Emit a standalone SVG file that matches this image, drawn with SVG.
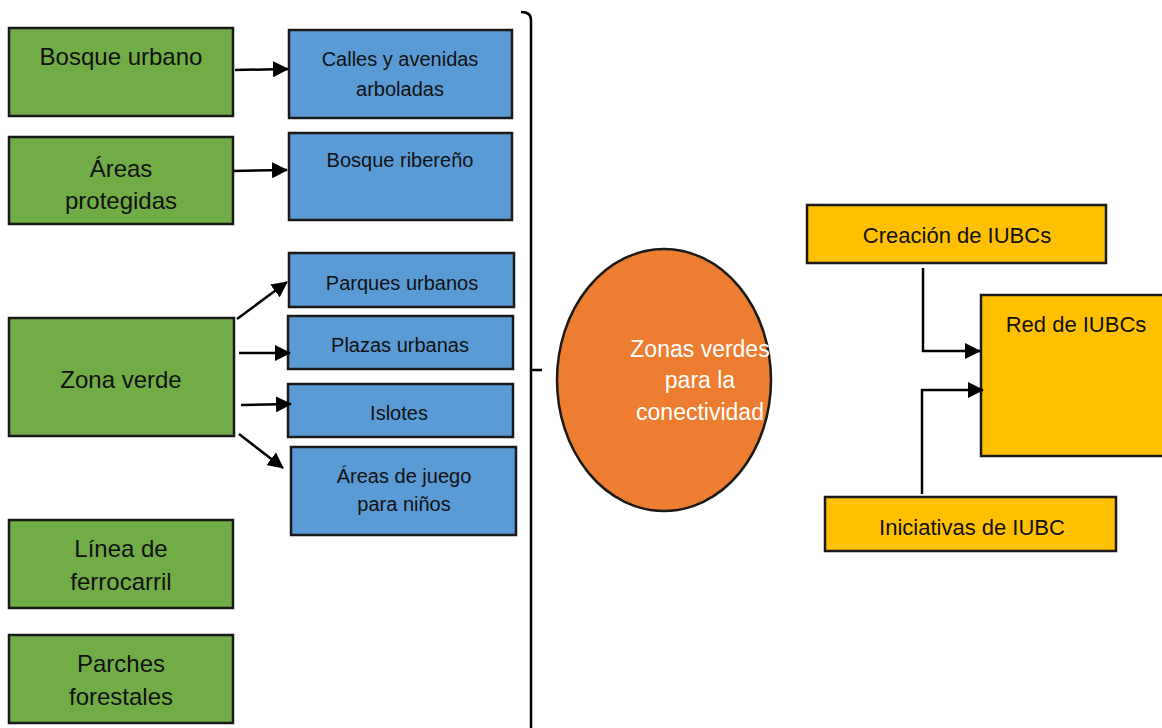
<svg xmlns="http://www.w3.org/2000/svg" width="1162" height="728" viewBox="0 0 1162 728">
<defs>
<style>
.box{stroke:#1a1a1a;stroke-width:2.5}
.g{fill:#70AD47}.b{fill:#5B9BD5}.y{fill:#FFC000}.o{fill:#ED7D31}
text{font-family:"Liberation Sans",Arial,sans-serif;text-anchor:middle;fill:#111}
.tg{font-size:24px}.tb{font-size:20px}.ty{font-size:22px}.tw{font-size:23px;fill:#fff}
.c{fill:none;stroke:#000;stroke-width:2.5}
</style>
<marker id="ah" markerUnits="userSpaceOnUse" markerWidth="16" markerHeight="16" refX="15" refY="8" orient="auto">
<path d="M0,0 L16,8 L0,16 Z" fill="#000"/>
</marker>
</defs>
<rect width="1162" height="728" fill="#fff"/>

<g id="bosque-urbano"><rect class="box g" x="9" y="28" width="224" height="88"/><text class="tg" x="121" y="65">Bosque urbano</text></g>
<g id="areas-protegidas"><rect class="box g" x="9" y="137" width="224" height="87"/><text class="tg" x="121" y="177">Áreas</text><text class="tg" x="121" y="209">protegidas</text></g>
<g id="zona-verde"><rect class="box g" x="9" y="318" width="225" height="118"/><text class="tg" x="121" y="388">Zona verde</text></g>
<g id="linea-ferrocarril"><rect class="box g" x="9" y="520" width="224" height="88"/><text class="tg" x="121" y="557">Línea de</text><text class="tg" x="121" y="590">ferrocarril</text></g>
<g id="parches-forestales"><rect class="box g" x="9" y="635" width="224" height="88"/><text class="tg" x="121" y="672">Parches</text><text class="tg" x="121" y="705">forestales</text></g>

<g id="calles"><rect class="box b" x="289" y="30" width="223" height="88"/><text class="tb" x="400" y="66">Calles y avenidas</text><text class="tb" x="400" y="96">arboladas</text></g>
<g id="bosque-ribereno"><rect class="box b" x="289" y="133" width="223" height="87"/><text class="tb" x="400" y="167">Bosque ribereño</text></g>
<g id="parques"><rect class="box b" x="289" y="253" width="225" height="54"/><text class="tb" x="402" y="290">Parques urbanos</text></g>
<g id="plazas"><rect class="box b" x="288" y="316" width="225" height="53"/><text class="tb" x="400" y="352">Plazas  urbanas</text></g>
<g id="islotes"><rect class="box b" x="288" y="384" width="225" height="53"/><text class="tb" x="399" y="420">Islotes</text></g>
<g id="areas-juego"><rect class="box b" x="291" y="447" width="225" height="88"/><text class="tb" x="404" y="483">Áreas de juego</text><text class="tb" x="404" y="511">para niños</text></g>

<g id="bracket"><path class="c" d="M521,12 Q531,12 531,20 L531,730 M531,370 L542,370"/></g>

<g id="zonas-conectividad"><ellipse class="box o" cx="664" cy="380" rx="107" ry="131"/><text class="tw" x="700" y="357">Zonas verdes</text><text class="tw" x="700" y="388">para la</text><text class="tw" x="700" y="420">conectividad</text></g>

<g id="creacion"><rect class="box y" x="807" y="205" width="299" height="58"/><text class="ty" x="957" y="243">Creación de IUBCs</text></g>
<g id="red"><rect class="box y" x="981" y="295" width="190" height="161"/><text class="ty" x="1076" y="332">Red de IUBCs</text></g>
<g id="iniciativas"><rect class="box y" x="825" y="497" width="291" height="54"/><text class="ty" x="972" y="535">Iniciativas de IUBC</text></g>

<g id="connectors">
<path class="c" d="M235,70 L288,69" marker-end="url(#ah)"/>
<path class="c" d="M233,171 L287,170" marker-end="url(#ah)"/>
<path class="c" d="M237,319 L287,282" marker-end="url(#ah)"/>
<path class="c" d="M239,353 L290,353" marker-end="url(#ah)"/>
<path class="c" d="M241,405 L291,404" marker-end="url(#ah)"/>
<path class="c" d="M239,434 L283,468" marker-end="url(#ah)"/>
<path class="c" d="M923,268 L923,351 L980,351" marker-end="url(#ah)"/>
<path class="c" d="M922,494 L922,390 L983,390" marker-end="url(#ah)"/>
</g>
</svg>
